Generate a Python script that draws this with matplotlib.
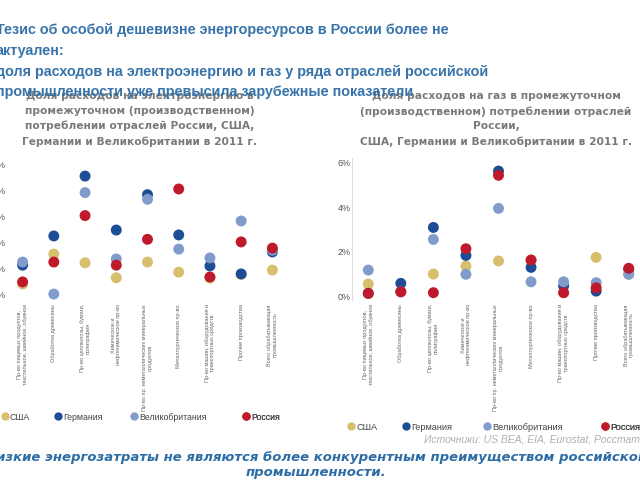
import matplotlib.pyplot as plt
from matplotlib.lines import Line2D
import numpy as np

# ---------- data ----------
categories = [
    "Пр-во пищевых продуктов,\nтекстильное, швейное, обувное",
    "Обработка древесины",
    "Пр-во целлюлозы, бумаги,\nполиграфия",
    "Химическое и\nнефтехимическое пр-во",
    "Пр-во пр. неметаллических минеральных\nпродуктов",
    "Металлургическое пр-во",
    "Пр-во машин, оборудования и\nтранспортных средств",
    "Прочие производства",
    "Всего обрабатывающая\nпромышленность",
]
countries = ["США", "Германия", "Великобритания", "Россия"]

# electricity share, %
elec_usa = [0.39, 1.55, 1.21, 0.63, 1.24, 0.85, 0.62, 0.76, 0.93]
elec_ger = [1.12, 2.25, 4.57, 2.48, 3.85, 2.29, 1.09, 0.78, 1.63]
elec_gbr = [1.24, 0.00, 3.93, 1.36, 3.67, 1.74, 1.40, 2.83, 1.70]
elec_rus = [0.47, 1.24, 3.04, 1.12, 2.12, 4.07, 0.66, 2.02, 1.78]

# gas share, %
gas_usa = [0.54, 0.19, 0.99, 1.35, 1.58, 1.62, 0.15, 1.74, 0.98]
gas_ger = [0.12, 0.57, 3.09, 1.83, 5.63, 1.29, 0.45, 0.22, 1.20]
gas_gbr = [1.17, 0.19, 2.55, 0.98, 3.95, 0.64, 0.64, 0.60, 0.98]
gas_rus = [0.12, 0.19, 0.15, 2.13, 5.44, 1.62, 0.15, 0.37, 1.25]

elec_ticks = [0, 1, 2, 3, 4, 5]
gas_ticks = [0, 2, 4, 6]

colors = ["#D8BF6E", "#1C4D95", "#819CCB", "#BE1A2C"]
title_blue = "#2D6DA6"
grey = "#7A7A7A"

plt.rcParams['font.family'] = ['Liberation Sans', 'DejaVu Sans']

fig = plt.figure(figsize=(6.4, 4.8), dpi=100)
W, H = 640.0, 480.0


def px_axes(x0, x1, y_top, y_bot):
    return fig.add_axes([x0 / W, 1 - y_bot / H, (x1 - x0) / W, (y_bot - y_top) / H])


def dot_panel(ax, series, ticks, ylim, show_spine):
    x = np.arange(len(categories))
    for vals, c in zip(series, colors):
        ax.scatter(x, vals, s=62, color=c, edgecolors="none", zorder=3)
    ax.set_xlim(-0.5, len(categories) - 0.5)
    ax.set_ylim(*ylim)
    ax.set_yticks(ticks)
    ax.set_yticklabels([f"{t}%" for t in ticks], fontsize=6.5, color="#555555")
    ax.set_xticks(x)
    ax.set_xticklabels(categories, rotation=90, fontsize=4.0, color="#666666",
                       va="top", ha="center", linespacing=1.1)
    ax.tick_params(axis="x", length=0, pad=3)
    ax.tick_params(axis="y", length=0, pad=1)
    for s in ["top", "right", "bottom"]:
        ax.spines[s].set_visible(False)
    ax.spines["left"].set_visible(show_spine)
    ax.spines["left"].set_color("#DDDDDD")
    ax.set_facecolor("none")


ax1 = px_axes(7, 288, 158, 300)
dot_panel(ax1, [elec_usa, elec_ger, elec_gbr, elec_rus], elec_ticks, (-0.23, 5.27), False)

ax2 = px_axes(352, 645, 158, 300)
dot_panel(ax2, [gas_usa, gas_ger, gas_gbr, gas_rus], gas_ticks, (-0.18, 6.22), True)


def legend_row(ax, dot_x, y, fs):
    # one single-entry legend per country so the uneven gaps of the slide are kept
    for name, c, xp in zip(countries, colors, dot_x):
        h = Line2D([], [], marker="o", ls="none", color=c, markersize=5)
        leg = ax.legend([h], [name], frameon=False, fontsize=fs,
                        loc="center left", bbox_to_anchor=(xp / W, 1 - y / H),
                        bbox_transform=fig.transFigure, handletextpad=0.2,
                        handlelength=0.8, borderpad=0, borderaxespad=0,
                        labelcolor="#444444")
        ax.add_artist(leg)


legend_row(ax1, [1, 54, 130, 242], 417, 6.3)
legend_row(ax2, [347, 402, 483, 601], 427, 6.6)

# subtitles
fig.text(140 / W, 1 - 91 / H,
         "Доля расходов на электроэнергию в\nпромежуточном (производственном)\n"
         "потреблении отраслей России, США,\nГермании и Великобритании в 2011 г.",
         fontsize=7.7, fontweight="bold", color=grey, ha="center", va="top",
         linespacing=1.6, family="DejaVu Sans")
fig.text(496 / W, 1 - 91 / H,
         "Доля расходов на газ в промежуточном\n(производственном) потреблении отраслей\n"
         "России,\nСША, Германии и Великобритании в 2011 г.",
         fontsize=7.7, fontweight="bold", color=grey, ha="center", va="top",
         linespacing=1.6, family="DejaVu Sans")

# title
fig.text(-4 / W, 1 - 23 / H,
         "Тезис об особой дешевизне энергоресурсов в России более не\nактуален:\n"
         "доля расходов на электроэнергию и газ у ряда отраслей российской\n"
         "промышленности уже превысила зарубежные показатели",
         fontsize=10.4, fontweight="bold", color=title_blue, ha="left", va="top",
         linespacing=1.62, alpha=0.95)

fig.text(640 / W, 1 - 439 / H, "Источники: US BEA, EIA, Eurostat, Росстат",
         fontsize=7.5, style="italic", color="#B0B0B0", ha="right", va="center")

fig.text(316 / W, 1 - 465 / H,
         "Низкие энергозатраты не являются более конкурентным преимуществом российской\n"
         "промышленности.",
         fontsize=9.5, fontweight="bold", style="italic", color=title_blue,
         ha="center", va="center", linespacing=1.25, family="DejaVu Sans")

fig.savefig("out.png", dpi=100)
